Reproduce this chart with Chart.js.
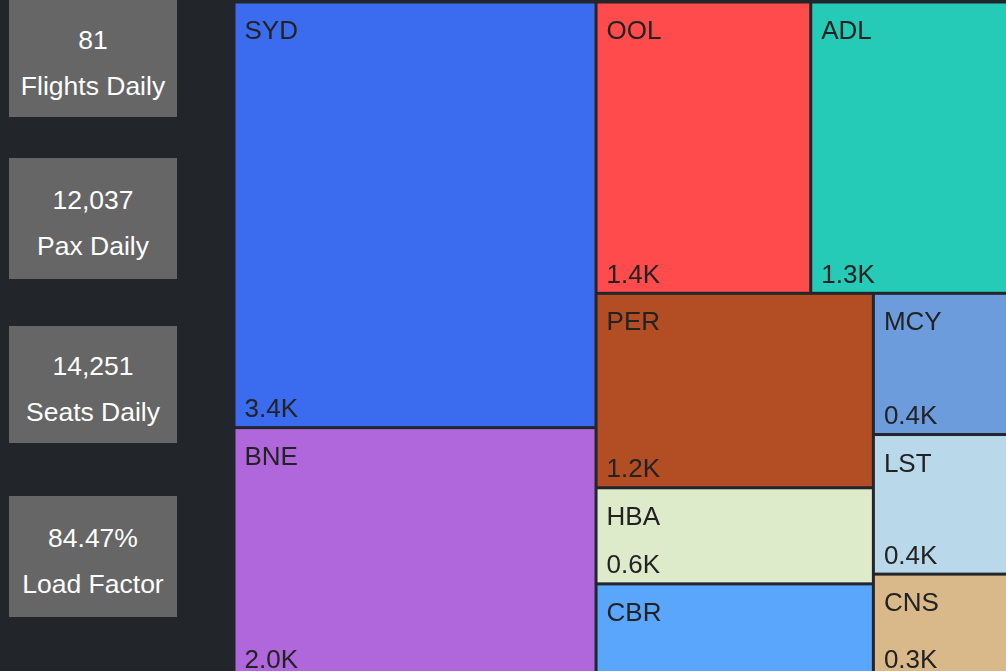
<!DOCTYPE html>
<html>
<head>
<meta charset="utf-8">
<script src="https://cdn.jsdelivr.net/npm/chart.js@4.4.1/dist/chart.umd.min.js"></script>
<style>
html,body{margin:0;padding:0;width:1006px;height:671px;overflow:hidden;background:#222529;font-family:"Liberation Sans",Arial,sans-serif}
.card{position:absolute;left:9px;width:168px;background:#666;color:#fff;font-size:26.5px;line-height:46px;text-align:center;box-sizing:border-box}
#tm{position:absolute;left:234px;top:2px}
</style>
</head>
<body>
<div id="cards"></div>
<canvas id="tm" width="779" height="676"></canvas>
<script>
// KPI cards
const kpiValues=['81','12,037','14,251','84.47%'];
const kpiLabels=['Flights Daily','Pax Daily','Seats Daily','Load Factor'];

// daily pax by destination
const airports=['SYD','BNE','OOL','ADL','PER','HBA','CBR','MCY','LST','CNS'];
const paxDaily=[3400,2000,1380,1300,1190,588,576,435,430,320];

const tileColors=['#3B6CF0','#B067DB','#FF4B4B','#25CBB6','#B34D24','#DDEBCA','#5AA6FC','#6C9CDB','#B9D8EA','#D9B989'];

// card boxes (top, height)
const cardBox=[[0,117],[158,121],[326,117],[496,121]];
const cw=document.getElementById('cards');
kpiValues.forEach((v,i)=>{
  const d=document.createElement('div');d.className='card';
  const [top,h]=cardBox[i];
  d.style.cssText=`top:${top}px;height:${h}px;padding-top:${h/2-41.5}px`;
  d.innerHTML=`<div>${v}</div><div>${kpiLabels[i]}</div>`;
  cw.appendChild(d);
});

const ASPECT=0.62; // preferred length/thickness of a tile in a strip

function worst(areas,L){
  const S=areas.reduce((s,a)=>s+a,0),th=S/L;
  let m=0;
  areas.forEach(a=>{const r=(a/th)/(th*ASPECT);m=Math.max(m,r,1/r);});
  return m;
}

function squarify(vals,W,H){
  const items=vals.map((v,i)=>({i,v})).sort((a,b)=>b.v-a.v);
  const total=items.reduce((s,o)=>s+o.v,0),k=W*H/total;
  let x=0,y=0,w=W,h=H,n=0;const out=[];
  while(n<items.length){
    const col=h<=w,L=col?h:w;
    let row=[items[n]],areas=[items[n].v*k];n++;
    while(n<items.length){
      const na=areas.concat(items[n].v*k);
      if(worst(na,L)<=worst(areas,L)){areas=na;row.push(items[n]);n++;}else break;
    }
    const th=areas.reduce((s,a)=>s+a,0)/L;
    let off=0;
    row.forEach((o,j)=>{
      const len=areas[j]/th;
      if(col)out.push({i:o.i,x0:x,y0:y+off,x1:x+th,y1:y+off+len});
      else out.push({i:o.i,x0:x+off,y0:y,x1:x+off+len,y1:y+th});
      off+=len;
    });
    if(col){x+=th;w-=th;}else{y+=th;h-=th;}
  }
  return out;
}

const fmtK=v=>(v/1000).toFixed(1)+'K';

const treemapPlugin={
  id:'treemapTiles',
  afterDatasetsDraw(chart){
    const {ctx,scales:{x,y}}=chart;
    const tiles=squarify(paxDaily,x.max,y.max);
    ctx.save();
    tiles.forEach(t=>{
      const l=x.getPixelForValue(t.x0),r=x.getPixelForValue(t.x1);
      const tp=y.getPixelForValue(t.y0),bt=y.getPixelForValue(t.y1);
      ctx.fillStyle=tileColors[t.i];
      ctx.fillRect(l+1.5,tp+1.5,r-l-3,bt-tp-3);
      ctx.fillStyle='#222';
      ctx.font='26px "Liberation Sans", Arial, sans-serif';
      ctx.textBaseline='alphabetic';ctx.textAlign='left';
      ctx.fillText(airports[t.i],l+10.5,tp+37);
      if(bt-tp-3>=92.5)ctx.fillText(fmtK(paxDaily[t.i]),l+10.5,bt-10.5);
    });
    ctx.restore();
  }
};

new Chart(document.getElementById('tm'),{
  type:'scatter',
  data:{datasets:[{data:[],pointRadius:0}]},
  options:{
    responsive:false,animation:false,
    layout:{padding:0},
    plugins:{legend:{display:false},tooltip:{enabled:false}},
    scales:{
      x:{type:'linear',min:0,max:779,display:false},
      y:{type:'linear',min:0,max:676,reverse:true,display:false}
    }
  },
  plugins:[treemapPlugin]
});
</script>
</body>
</html>
